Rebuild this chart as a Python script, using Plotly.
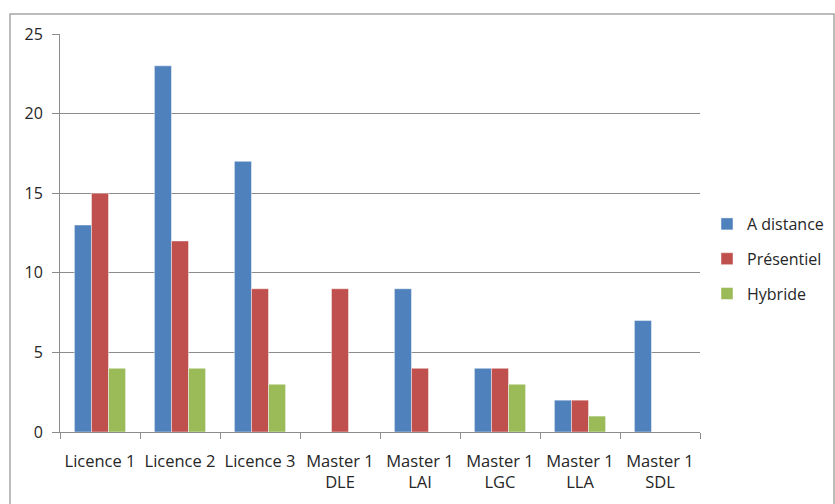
import plotly.graph_objects as go

categories = ["Licence 1", "Licence 2", "Licence 3", "Master 1<br>DLE",
              "Master 1<br>LAI", "Master 1<br>LGC", "Master 1<br>LLA", "Master 1<br>SDL"]
a_distance = [13, 23, 17, None, 9, 4, 2, 7]
presentiel = [15, 12, 9, 9, 4, 4, 2, None]
hybride = [4, 4, 3, None, None, 3, 1, None]
y_ticks = [0, 5, 10, 15, 20, 25]

series = [
    ("A distance", a_distance, "#4F81BD"),
    ("Présentiel", presentiel, "#C0504D"),
    ("Hybride", hybride, "#9BBB59"),
]

fig = go.Figure()
for name, vals, color in series:
    fig.add_trace(go.Bar(
        x=categories, y=vals, name=name, legendgroup=name,
        marker=dict(color=color, line=dict(color="rgba(255,255,255,0.45)", width=1)),
    ))

font_family = "'Open Sans', Lato, sans-serif"
axis_grey = "#8C8C8C"

W, H = 835, 504
L, T, B = 60, 34, 72
plot_w, plot_h = 640, 398
paper_w = W - L  # right margin is zero; the x domain leaves room for the legend

def px_x(p):
    return (p - L) / paper_w

def px_y(p):
    return (T + plot_h - p) / plot_h

fig.update_layout(
    width=W, height=H,
    margin=dict(l=L, r=0, t=T, b=B, autoexpand=False),
    paper_bgcolor="white", plot_bgcolor="white",
    barmode="group", bargap=0.36, bargroupgap=0,
    font=dict(family=font_family, size=16, color="#262626"),
    showlegend=True,
    legend=dict(x=px_x(707), xanchor="left", y=px_y(259), yanchor="middle",
                tracegroupgap=11, font=dict(size=16), itemwidth=30,
                bgcolor="rgba(0,0,0,0)"),
    xaxis=dict(type="category", domain=[0, plot_w / paper_w],
               tickson="boundaries", ticks="outside", ticklen=6,
               tickcolor=axis_grey, showline=True, linecolor=axis_grey, linewidth=1,
               showgrid=False, tickfont=dict(size=16.5), ticklabelstandoff=14),
    yaxis=dict(range=[0, 25], tickvals=y_ticks, ticks="outside", ticklen=7,
               tickcolor=axis_grey, showline=True, linecolor=axis_grey, linewidth=1,
               showgrid=True, gridcolor=axis_grey, gridwidth=1, zeroline=False,
               tickfont=dict(size=16), ticklabelstandoff=6),
    shapes=[dict(type="rect", xref="paper", yref="paper",
                 x0=px_x(10), x1=px_x(834),
                 y0=-0.25, y1=px_y(14),
                 line=dict(color="#A6A6A6", width=1.5), layer="below")],
)

fig.write_html("out.html")
